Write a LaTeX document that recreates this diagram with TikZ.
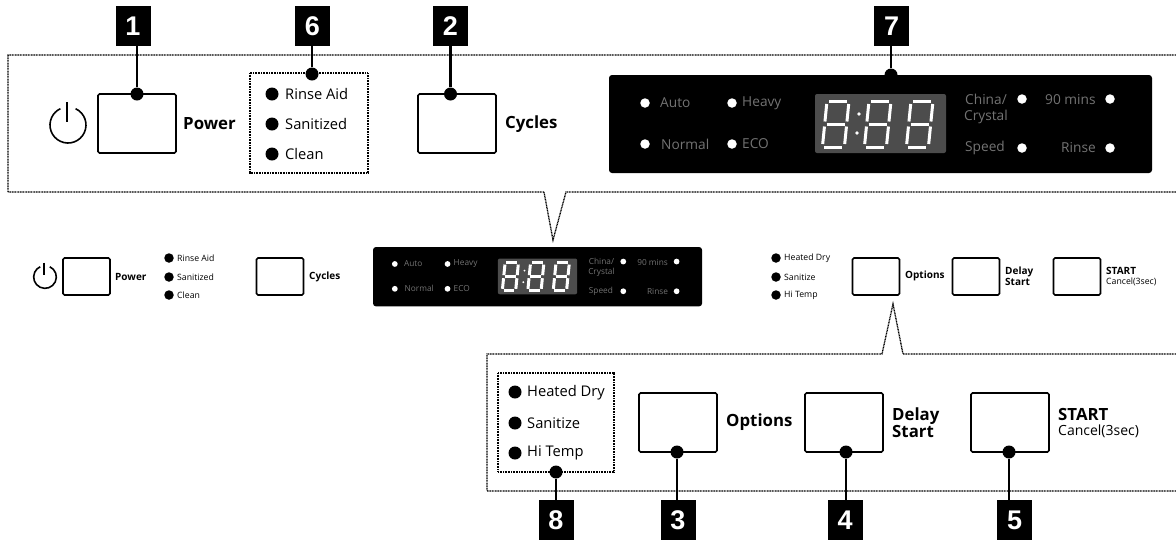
\documentclass[tikz,border=0pt]{standalone}
\usepackage{fontspec}
\setmainfont{Open Sans}
\newfontfamily\numfont{Liberation Sans}
\usepackage{tikz}

% One seven segment digit, top left corner at #1
\newcommand{\segdigit}[1]{
    \begin{scope}[shift={(#1)}, xslant=0.1, line width=3pt, white]
        \draw (4,0) -- (22,0);    %Top
        \draw (4,23) -- (22,23);  %Middle
        \draw (4,46) -- (22,46);  %Lower
        \draw (2,3) -- (2,20.5);  %Left up
        \draw (2,25.5) -- (2,43); %Left down
        \draw (24,3) -- (24,20.5);  %Right up
        \draw (24,25.5) -- (24,43); %Right down
    \end{scope}
}

\tikzset{
    numbox/.style={fill=black, text=white, minimum width=35pt, minimum height=40pt, inner sep=0pt, font=\fontsize{27}{27}\selectfont\numfont\bfseries},
    button/.style={draw, line width=1.6pt, rounded corners=1.5pt, inner sep=0pt},
    bigbutton/.style={button, minimum width=78pt, minimum height=59pt},
    smallbutton/.style={button, minimum width=47pt, minimum height=37pt},
    pin/.style={circle, fill=black, minimum size=13pt, inner sep=0pt},
    led/.style={circle, fill=black, minimum size=13pt, inner sep=0pt},
    tinyled/.style={circle, fill=black, minimum size=9.5pt, inner sep=0pt},
    whiteled/.style={circle, fill=white, minimum size=9.5pt, inner sep=0pt},
    txt/.style={anchor=west, inner sep=0pt, align=left},
    bigtxt/.style={txt, font=\fontsize{14.7}{14.7}\selectfont},
    boldtxt/.style={txt, font=\fontsize{16.8}{16.8}\selectfont\bfseries},
    tinytxt/.style={txt, font=\fontsize{8.7}{8.7}\selectfont},
    tinybold/.style={txt, font=\fontsize{10}{10}\selectfont\bfseries},
    paneltxt/.style={txt, text=black!55, font=\fontsize{13.7}{13.7}\selectfont},
    frame/.style={line width=1.3pt, dash pattern=on 1pt off 0.6pt},
    leader/.style={line width=2.5pt},
    powericon/.pic={
        \draw[line width=1.6pt] (7.6,-16.3) arc[start angle=65, end angle=-245, radius=18pt]; %Ring
        \draw[line width=2.2pt] (-1.4,-23) -- (-1.4,-3); %Stroke
    },
    paneldisplay/.pic={
        \fill[black] (0,0) [rounded corners=3pt] rectangle (543,98); %Panel
        \fill[black!70, rounded corners=2pt] (206,19) rectangle (337,78); %Window
        \segdigit{216,26}
        \segdigit{258,26}
        \segdigit{300,26}
        \fill[white] (250,39) circle (1.8); %Colon up
        \fill[white] (248,58) circle (1.8); %Colon down
        %Left leds
        \node[whiteled] (-autoled) at (36,28) {};
        \node[whiteled] (-heavyled) at (123,28) {};
        \node[whiteled] (-normalled) at (36,69) {};
        \node[whiteled] (-ecoled) at (123,69) {};
        \node[paneltxt] (-auto) at (51,28) {Auto};
        \node[paneltxt] (-heavy) at (133,28) {Heavy};
        \node[paneltxt] (-normal) at (52,69) {Normal};
        \node[paneltxt] (-eco) at (133,69) {ECO};
        %Right leds
        \node[whiteled] (-chinaled) at (413,24) {};
        \node[whiteled] (-minsled) at (501,24) {};
        \node[whiteled] (-speedled) at (413,73) {};
        \node[whiteled] (-rinseled) at (501,73) {};
        \node[paneltxt] (-china) at (356,24) {China/};
        \node[paneltxt] (-crystal) at (355,42) {Crystal};
        \node[paneltxt] (-mins) at (436,25) {90 mins};
        \node[paneltxt] (-speed) at (356,73) {Speed};
        \node[paneltxt] (-rinse) at (452,73) {Rinse};
    },
}

\begin{document}
\begin{tikzpicture}[x=1pt, y=-1pt]
    \useasboundingbox (0,0) rectangle (1176,539);

    %Top callout
    \draw[frame] (1176,55) -- (8,55) -- (8,192) -- (544,192) -- (553,240) -- (566,192) -- (1176,192);
    \draw[frame] (250,73) rectangle (368,173); %Led group

    %Top buttons
    \pic at (68,125) {powericon};
    \node[bigbutton] (powerbtn) at (137,123.5) {};
    \node[boldtxt] (powertxt) at (183,124) {Power};
    \node[bigbutton] (cyclesbtn) at (457,123.5) {};
    \node[boldtxt] (cyclestxt) at (505,124) {Cycles};

    %Top leds
    \node[led] (rinseaidled) at (272,94) {};
    \node[led] (sanitizedled) at (272,124) {};
    \node[led] (cleanled) at (272,154) {};
    \node[bigtxt] (rinseaid) at (285,94) {Rinse Aid};
    \node[bigtxt] (sanitized) at (285,124) {Sanitized};
    \node[bigtxt] (clean) at (285,154) {Clean};

    %Top display
    \node[pin] (pinseven) at (891,75) {};
    \pic (bigpanel) at (609,75) {paneldisplay};

    %Middle row
    \pic[scale=0.63] at (45,277) {powericon};
    \node[smallbutton] (powersmall) at (86.5,276.5) {};
    \node[tinybold] (powersmalltxt) at (115,277) {Power};
    \node[tinyled] (rinseaidsmallled) at (169,258) {};
    \node[tinyled] (sanitizedsmallled) at (169,277) {};
    \node[tinyled] (cleansmallled) at (169,295) {};
    \node[tinytxt] (rinseaidsmall) at (177,258) {Rinse Aid};
    \node[tinytxt] (sanitizedsmall) at (177,277) {Sanitized};
    \node[tinytxt] (cleansmall) at (177,295) {Clean};
    \node[smallbutton] (cyclessmall) at (280,276.5) {};
    \node[tinybold] (cyclessmalltxt) at (309,277) {Cycles};
    \pic[scale=0.606, transform shape] (smallpanel) at (373,247) {paneldisplay};
    \node[tinyled] (heatedsmallled) at (776,258) {};
    \node[tinyled] (sanitizesmallled) at (776,277) {};
    \node[tinyled] (hitempsmallled) at (776,295) {};
    \node[tinytxt] (heatedsmall) at (784,258) {Heated Dry};
    \node[tinytxt] (sanitizesmall) at (784,277) {Sanitize};
    \node[tinytxt] (hitempsmall) at (784,295) {Hi Temp};
    \node[smallbutton] (optionssmall) at (876,276.5) {};
    \node[tinybold] (optionssmalltxt) at (905,276) {Options};
    \node[smallbutton] (delaysmall) at (976,276.5) {};
    \node[tinybold] (delaysmalltxt) at (1005,276.5) {Delay\\[1pt]Start};
    \node[smallbutton] (startsmall) at (1077,276.5) {};
    \node[tinybold] (startsmalltxt) at (1106,271) {START};
    \node[tinytxt] (cancelsmalltxt) at (1106,282) {Cancel(3sec)};

    %Bottom callout
    \draw[frame] (1176,354) -- (903,354) -- (893,304) -- (882,354) -- (487,354) -- (487,491) -- (1176,491);
    \draw[frame] (498,373) rectangle (614,472); %Led group

    %Bottom leds
    \node[led] (heatedled) at (515,392) {};
    \node[led] (sanitizeled) at (515,423) {};
    \node[led] (hitempled) at (515,453) {};
    \node[bigtxt] (heated) at (527,393) {Heated Dry};
    \node[bigtxt] (sanitize) at (527,423) {Sanitize};
    \node[bigtxt] (hitemp) at (527,453) {Hi Temp};

    %Bottom buttons
    \node[bigbutton] (optionsbtn) at (678,422.5) {};
    \node[boldtxt] (optionstxt) at (726,422) {Options};
    \node[bigbutton] (delaybtn) at (844,422.5) {};
    \node[boldtxt] (delaytxt) at (892,422.5) {Delay\\[0pt]Start};
    \node[bigbutton] (startbtn) at (1010,422.5) {};
    \node[boldtxt] (starttxt) at (1058,414) {START};
    \node[txt, font=\fontsize{14}{14}\selectfont] (canceltxt) at (1058,431) {Cancel(3sec)};

    %Pins
    \node[pin] (pinone) at (137,94) {};
    \node[pin] (pintwo) at (450.5,94) {};
    \node[pin] (pinsix) at (312,74) {};
    \node[pin] (pineight) at (556,472) {};
    \node[pin] (pinthree) at (677,452) {};
    \node[pin] (pinfour) at (846,452) {};
    \node[pin] (pinfive) at (1009,452) {};

    %Number boxes
    \node[numbox] (numone) at (133,26) {1};
    \node[numbox] (numsix) at (312.5,26) {6};
    \node[numbox] (numtwo) at (450.5,26) {2};
    \node[numbox] (numseven) at (891.5,26) {7};
    \node[numbox] (numeight) at (556,520) {8};
    \node[numbox] (numthree) at (678,520) {3};
    \node[numbox] (numfour) at (845,520) {4};
    \node[numbox] (numfive) at (1014.5,520) {5};

    %Leaders
    \draw[leader] (pinone) -- (pinone |- numone.south);
    \draw[leader] (pinsix) -- (pinsix |- numsix.south);
    \draw[leader] (pintwo) -- (pintwo |- numtwo.south);
    \draw[leader] (pinseven) -- (pinseven |- numseven.south);
    \draw[leader] (pineight) -- (pineight |- numeight.north);
    \draw[leader] (pinthree) -- (pinthree |- numthree.north);
    \draw[leader] (pinfour) -- (pinfour |- numfour.north);
    \draw[leader] (pinfive) -- (pinfive |- numfive.north);

\end{tikzpicture}
\end{document}
